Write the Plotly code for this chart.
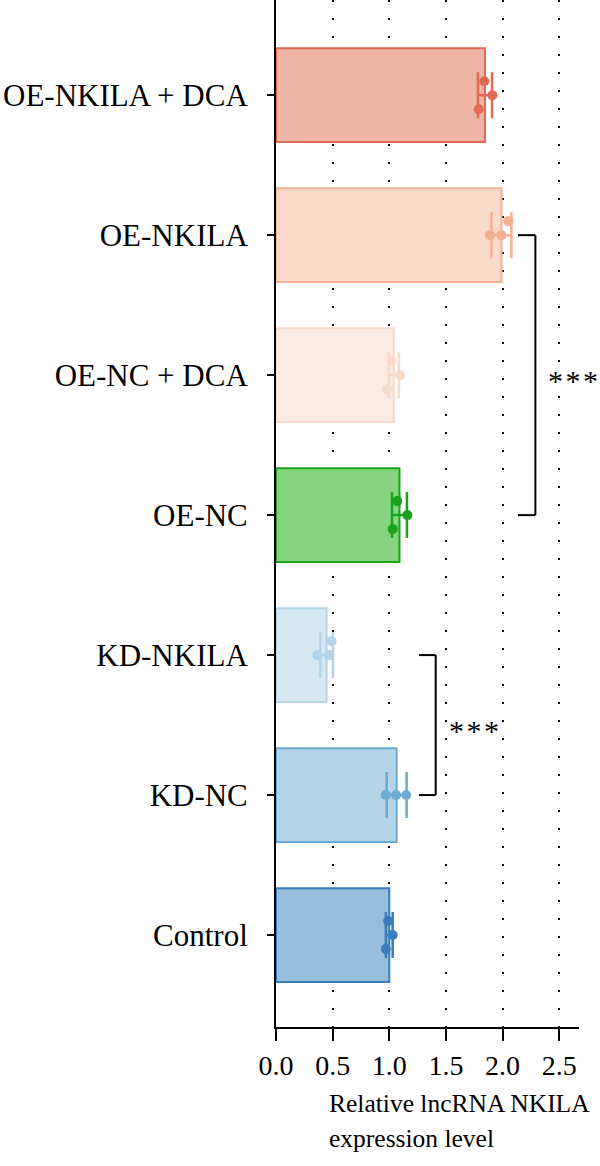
import plotly.graph_objects as go

categories = ["Control", "KD-NC", "KD-NKILA", "OE-NC", "OE-NC + DCA", "OE-NKILA", "OE-NKILA + DCA"]
bar_values = [1.00, 1.065, 0.447, 1.09, 1.04, 1.99, 1.845]
sd_values = [0.03, 0.088, 0.056, 0.066, 0.045, 0.088, 0.062]
points = [
    [0.99, 1.03, 0.97],
    [0.97, 1.06, 1.15],
    [0.365, 0.49, 0.47],
    [1.07, 1.16, 1.03],
    [1.02, 1.095, 0.98],
    [1.89, 1.99, 2.05],
    [1.84, 1.91, 1.79],
]
point_offsets = [
    [0.1, 0.0, -0.1],
    [0.0, 0.0, 0.0],
    [0.0, 0.1, 0.0],
    [0.1, 0.0, -0.1],
    [0.1, 0.0, -0.1],
    [0.0, 0.0, 0.1],
    [0.1, 0.0, -0.1],
]
fill_colors = ["#98BEDD", "#B4D5E8", "#D6E8F2", "#86D480", "#FCEBE3", "#FADACB", "#EEB4A6"]
line_colors = ["#3A7DBA", "#6AAAD3", "#B3D4E7", "#1AA31A", "#F8DACA", "#F4B092", "#E06A55"]

# significance brackets: (lower group, upper group, bracket start x, bracket end x, label)
brackets = [(3, 5, 2.136, 2.29, "*\u200a*\u200a*"), (1, 2, 1.262, 1.41, "*\u200a*\u200a*")]

font_family = "Liberation Serif"

fig = go.Figure()
idx = list(range(len(categories)))

fig.add_trace(go.Bar(
    x=bar_values, y=idx, orientation="h", width=0.67,
    marker=dict(color=fill_colors, line=dict(color=line_colors, width=2)),
    showlegend=False, hoverinfo="skip",
))

for i in idx:
    fig.add_trace(go.Scatter(
        x=[bar_values[i]], y=[i], mode="markers",
        marker=dict(size=1, color="rgba(0,0,0,0)"),
        error_x=dict(type="data", array=[sd_values[i]], color=line_colors[i], thickness=2.5, width=23),
        showlegend=False, hoverinfo="skip",
    ))
    fig.add_trace(go.Scatter(
        x=points[i], y=[i + o for o in point_offsets[i]], mode="markers",
        marker=dict(size=10, color=line_colors[i]),
        showlegend=False, hoverinfo="skip",
    ))

for lo, hi, xs, xe, label in brackets:
    fig.add_shape(type="line", xref="x", yref="y", x0=xs, x1=xe, y0=hi, y1=hi, line=dict(color="black", width=2))
    fig.add_shape(type="line", xref="x", yref="y", x0=xe, x1=xe, y0=hi, y1=lo, line=dict(color="black", width=2))
    fig.add_shape(type="line", xref="x", yref="y", x0=xs, x1=xe, y0=lo, y1=lo, line=dict(color="black", width=2))
    fig.add_annotation(x=xe, y=(lo + hi) / 2, xref="x", yref="y", text=label, showarrow=False,
                       xanchor="left", yanchor="middle", xshift=11, yshift=-5,
                       font=dict(family=font_family, size=30, color="black"))

fig.add_annotation(x=0.168, y=0, xref="paper", yref="paper", text="Relative lncRNA NKILA", showarrow=False,
                   xanchor="left", yanchor="middle", yshift=-76, font=dict(family=font_family, size=25.5, color="black"))
fig.add_annotation(x=0.168, y=0, xref="paper", yref="paper", text="expression level", showarrow=False,
                   xanchor="left", yanchor="middle", yshift=-111, font=dict(family=font_family, size=25.5, color="black"))

fig.update_layout(
    width=600, height=1166,
    margin=dict(l=276, r=21, t=0, b=139),
    plot_bgcolor="white", paper_bgcolor="white",
    bargap=0.33,
)
fig.update_xaxes(
    range=[0, 2.675], dtick=0.5, tick0=0, tickformat=".1f",
    showline=True, linecolor="black", linewidth=2,
    ticks="outside", ticklen=12, tickwidth=2, tickcolor="black",
    showgrid=True, gridcolor="black", gridwidth=2, griddash="2px,16px",
    zeroline=False,
    tickfont=dict(family=font_family, size=28, color="black"),
)
fig.update_yaxes(
    range=[-0.657, 6.68], tickvals=idx, ticktext=categories,
    showline=True, linecolor="black", linewidth=2,
    ticks="outside", ticklen=7, tickwidth=2, tickcolor="black",
    showgrid=False, zeroline=False, ticklabelstandoff=13,
    tickfont=dict(family=font_family, size=31, color="black"),
)

fig.write_html("out.html")
